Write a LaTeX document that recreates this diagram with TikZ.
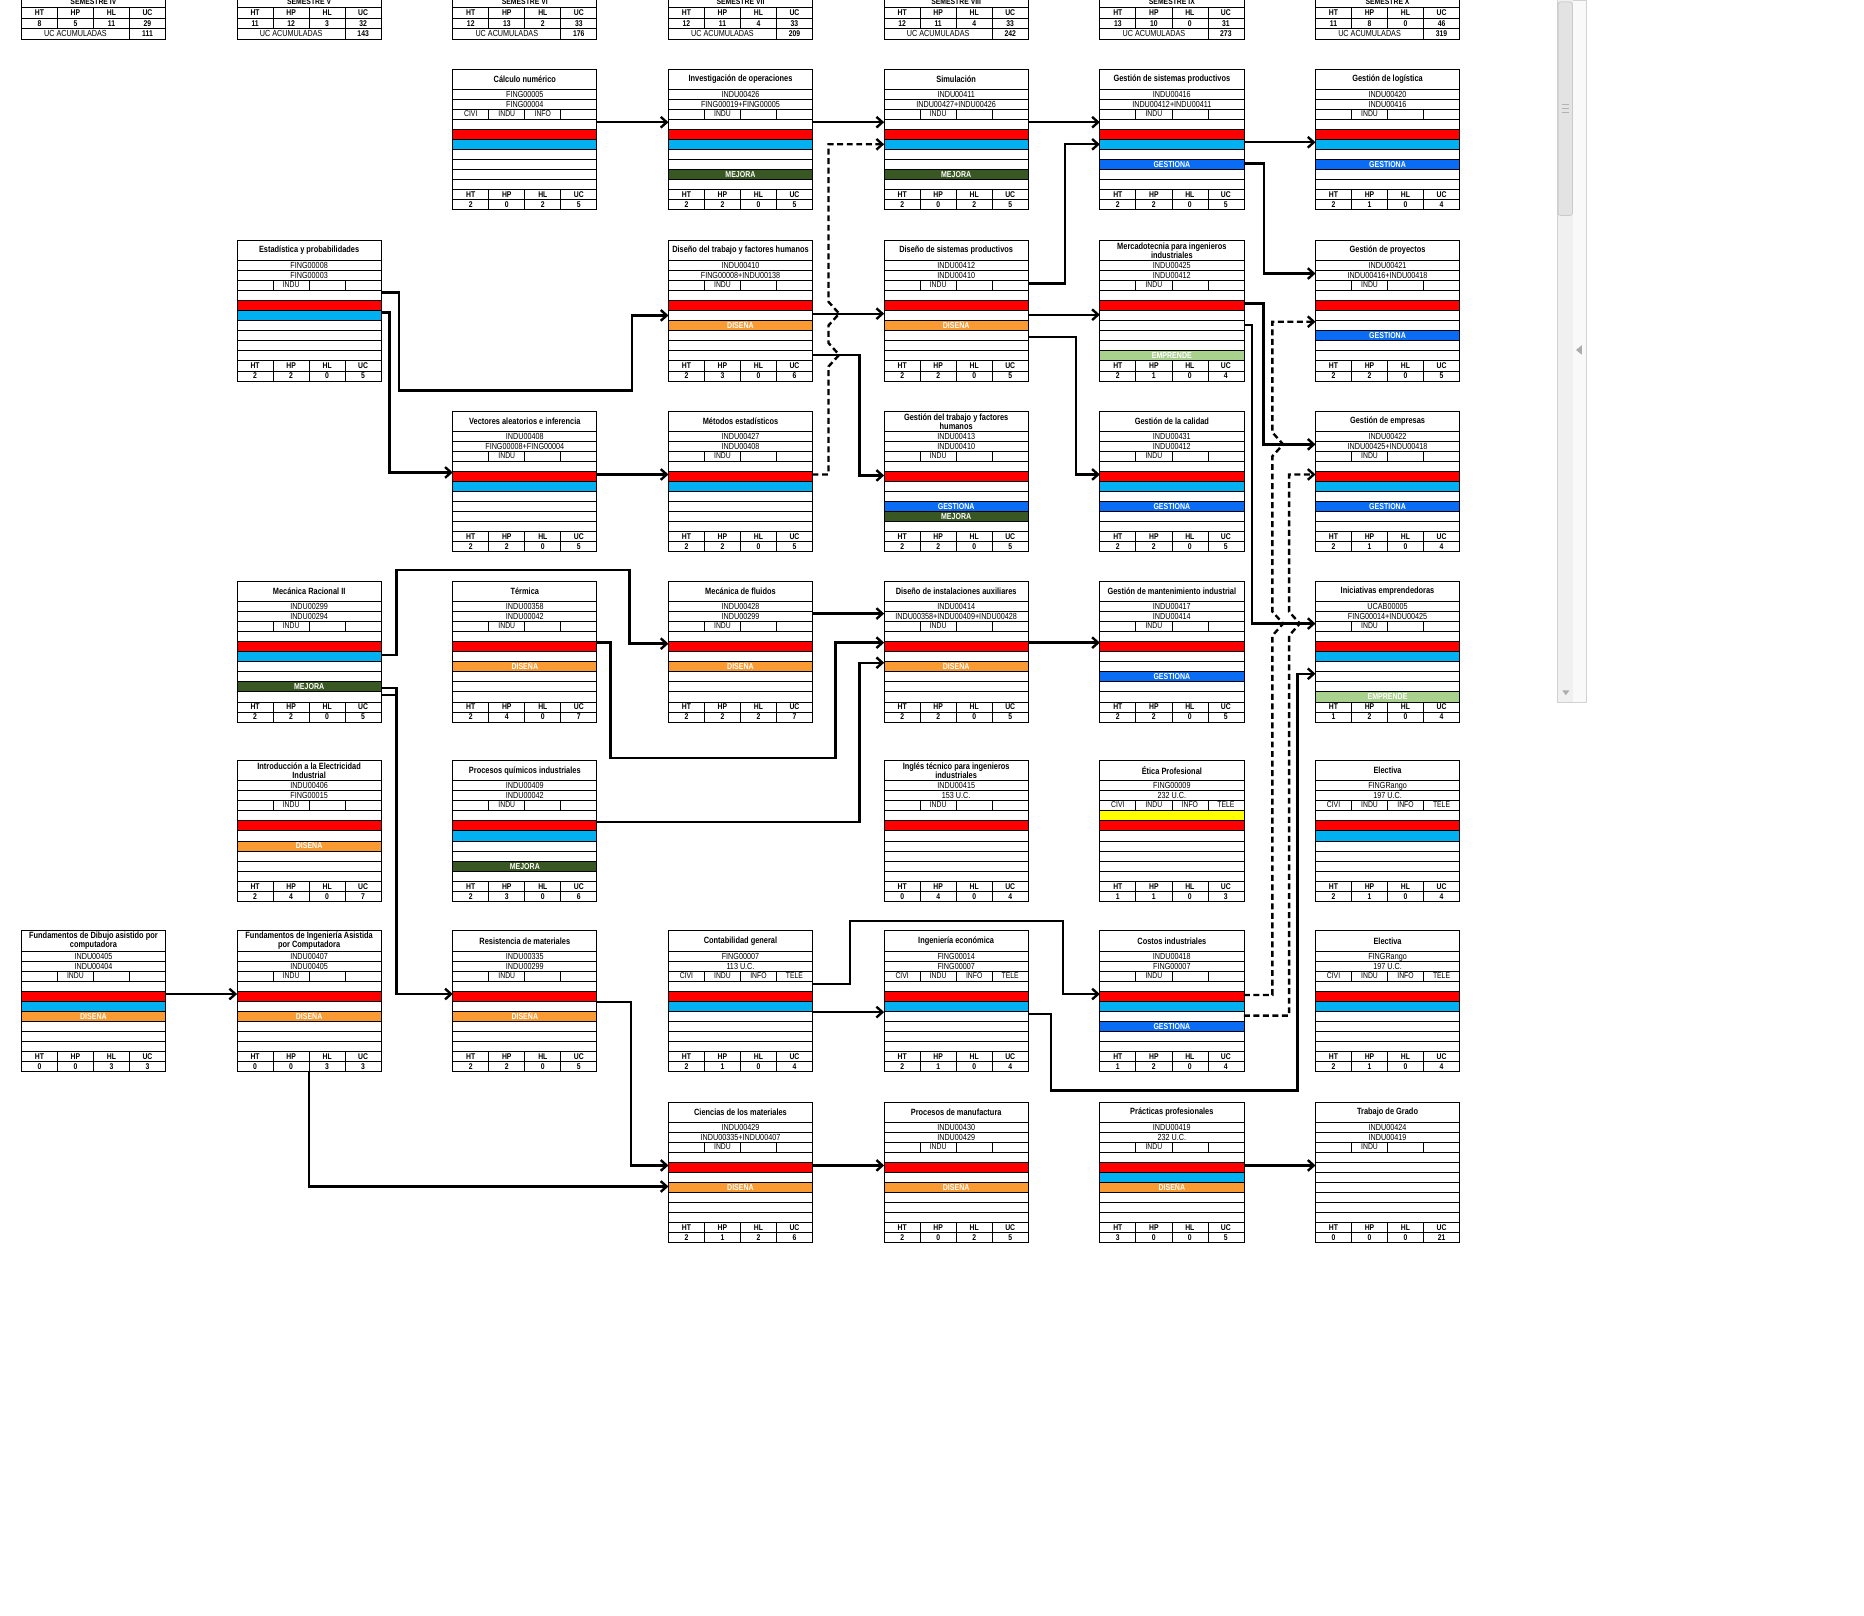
\documentclass[tikz,border=0pt]{standalone}
\usepackage{fontspec}
\setmainfont{Liberation Sans}[FakeStretch=0.82]
\usetikzlibrary{arrows.meta,calc}

\definecolor{rojo}{HTML}{FF0000}
\definecolor{celeste}{HTML}{00B0F0}
\definecolor{azul}{HTML}{0A6CF5}
\definecolor{verde}{HTML}{385723}
\definecolor{naranja}{HTML}{F99A33}
\definecolor{verdecl}{HTML}{A9D18E}
\definecolor{amarillo}{HTML}{FFFF00}

% carreras
\def\cI{2/INDU}
\def\cIII{1/CIVI,2/INDU,3/INFO}
\def\cIV{1/CIVI,2/INDU,3/INFO,4/TELE}

% #1 name, #2 x, #3 y, #4 title, #5 code, #6 prereq, #7 careers, #8 bands, #9 hours
\newcommand{\curso}[9]{%
  \node[box] (#1) at (#2,#3) {};
  \begin{scope}[shift={(#2,#3)}]
    \foreach \rr/\cl/\lb in {#8} {
      \fill[\cl] (0,{8.43*\rr}) rectangle (121,{8.43*(\rr+1)});
      \node[banda] (#1-b\rr) at (60.5,{8.43*(\rr+0.5)}) {\lb};
    }
    \draw[fino] (0,0) rectangle (121,118);
    \foreach \rr in {2,...,13} \draw[fino] (0,{8.43*\rr}) -- (121,{8.43*\rr});
    \foreach \i in {1,2,3} {
      \draw[fino] ({30.25*\i},{8.43*4}) -- ({30.25*\i},{8.43*5});
      \draw[fino] ({30.25*\i},{8.43*12}) -- ({30.25*\i},118);
    }
    \node[titulo] (#1-tit) at (60.5,8.43) {#4};
    \node[codigo] (#1-cod) at (60.5,{8.43*2.5}) {#5};
    \node[codigo] (#1-pre) at (60.5,{8.43*3.5}) {#6};
    \foreach \i/\nn in #7 \node[carrera] (#1-c\i) at ({30.25*\i-15.125},{8.43*4.42}) {\nn};
    \foreach \hh [count=\i] in {HT,HP,HL,UC} \node[horas] (#1-h\i) at ({30.25*\i-15.125},{8.43*12.5}) {\hh};
    \foreach \vv [count=\i] in {#9} \node[horas] (#1-v\i) at ({30.25*\i-15.125},{8.43*13.5}) {\vv};
  \end{scope}}

% #1 name, #2 x, #3 title, #4 hours, #5 accumulated
\newcommand{\semestre}[5]{%
  \node[tabla] (#1) at (#2,-5) {};
  \begin{scope}[shift={(#2,0)}]
    \draw[fino] (0,-5) rectangle (121,33);
    \foreach \yy in {6.2,15.4,23.8} \draw[fino] (0,\yy) -- (121,\yy);
    \foreach \i in {1,2,3} \draw[fino] ({30.25*\i},6.2) -- ({30.25*\i},23.8);
    \draw[fino] (90.75,23.8) -- (90.75,33);
    \node[horas,anchor=base] (#1-tit) at (60.5,3.4) {#3};
    \foreach \hh [count=\i] in {HT,HP,HL,UC} \node[horas] (#1-h\i) at ({30.25*\i-15.125},10.8) {\hh};
    \foreach \vv [count=\i] in {#4} \node[horas] (#1-v\i) at ({30.25*\i-15.125},19.6) {\vv};
    \node[codigo] (#1-acu) at (45.4,28.4) {UC ACUMULADAS};
    \node[horas] (#1-tot) at (105.9,28.4) {#5};
  \end{scope}}

\begin{document}
\begin{tikzpicture}
  [x=1pt,y=-1pt,
   box/.style={minimum width=121pt,minimum height=118pt,inner sep=0pt,outer sep=0pt,anchor=north west},
   tabla/.style={minimum width=121pt,minimum height=38pt,inner sep=0pt,outer sep=0pt,anchor=north west},
   fino/.style={line width=0.6pt},
   titulo/.style={font=\bfseries\fontsize{7.6}{7.6}\selectfont,align=center,inner sep=0pt},
   codigo/.style={font=\fontsize{7.4}{8}\selectfont,inner sep=0pt,text height=5.2pt,text depth=0pt},
   carrera/.style={font=\fontsize{7}{8}\selectfont,inner sep=0pt,text height=5pt,text depth=0pt},
   horas/.style={font=\bfseries\fontsize{7}{8}\selectfont,inner sep=0pt,text height=5pt,text depth=0pt},
   banda/.style={font=\bfseries\fontsize{7.2}{8}\selectfont,text=white,inner sep=0pt,text height=5.1pt,text depth=0pt},
   conn/.style={line width=2pt,-{Straight Barb[length=5pt,width=9pt]}},
   disc/.style={conn,dash pattern=on 5pt off 3pt},
   linea/.style={line width=2pt}]
\useasboundingbox[fill=white] (0,0) rectangle (1566,1357);
% semestres
\semestre{s4}{18}{SEMESTRE IV}{8,5,11,29}{111}
\semestre{s5}{199.2}{SEMESTRE V}{11,12,3,32}{143}
\semestre{s6}{380.4}{SEMESTRE VI}{12,13,2,33}{176}
\semestre{s7}{561.6}{SEMESTRE VII}{12,11,4,33}{209}
\semestre{s8}{742.8}{SEMESTRE VIII}{12,11,4,33}{242}
\semestre{s9}{924}{SEMESTRE IX}{13,10,0,31}{273}
\semestre{s10}{1105.2}{SEMESTRE X}{11,8,0,46}{319}
% semestre IV
\curso{fdac}{18}{782}{Fundamentos de Dibujo asistido por\\computadora}{INDU00405}{INDU00404}{\cI}{6/rojo/,7/celeste/,8/naranja/DISEÑA}{0,0,3,3}
% semestre V
\curso{est}{199.2}{202}{Estadística y probabilidades}{FING00008}{FING00003}{\cI}{6/rojo/,7/celeste/}{2,2,0,5}
\curso{mra}{199.2}{488.5}{Mecánica Racional II}{INDU00299}{INDU00294}{\cI}{6/rojo/,7/celeste/,10/verde/MEJORA}{2,2,0,5}
\curso{iei}{199.2}{639}{Introducción a la Electricidad\\Industrial}{INDU00406}{FING00015}{\cI}{6/rojo/,8/naranja/DISEÑA}{2,4,0,7}
\curso{fiac}{199.2}{782}{Fundamentos de Ingeniería Asistida\\por Computadora}{INDU00407}{INDU00405}{\cI}{6/rojo/,8/naranja/DISEÑA}{0,0,3,3}
% semestre VI
\curso{cnum}{380.4}{58}{Cálculo numérico}{FING00005}{FING00004}{\cIII}{6/rojo/,7/celeste/}{2,0,2,5}
\curso{vai}{380.4}{345.5}{Vectores aleatorios e inferencia}{INDU00408}{FING00008+FING00004}{\cI}{6/rojo/,7/celeste/}{2,2,0,5}
\curso{ter}{380.4}{488.5}{Térmica}{INDU00358}{INDU00042}{\cI}{6/rojo/,8/naranja/DISEÑA}{2,4,0,7}
\curso{pqi}{380.4}{639}{Procesos químicos industriales}{INDU00409}{INDU00042}{\cI}{6/rojo/,7/celeste/,10/verde/MEJORA}{2,3,0,6}
\curso{rmat}{380.4}{782}{Resistencia de materiales}{INDU00335}{INDU00299}{\cI}{6/rojo/,8/naranja/DISEÑA}{2,2,0,5}
% semestre VII
\curso{inv}{561.6}{58}{Investigación de operaciones}{INDU00426}{FING00019+FING00005}{\cI}{6/rojo/,7/celeste/,10/verde/MEJORA}{2,2,0,5}
\curso{dtf}{561.6}{202}{Diseño del trabajo y factores humanos}{INDU00410}{FING00008+INDU00138}{\cI}{6/rojo/,8/naranja/DISEÑA}{2,3,0,6}
\curso{mest}{561.6}{345.5}{Métodos estadísticos}{INDU00427}{INDU00408}{\cI}{6/rojo/,7/celeste/}{2,2,0,5}
\curso{mflu}{561.6}{488.5}{Mecánica de fluidos}{INDU00428}{INDU00299}{\cI}{6/rojo/,8/naranja/DISEÑA}{2,2,2,7}
\curso{cont}{561.6}{782}{Contabilidad general}{FING00007}{113 U.C.}{\cIV}{6/rojo/,7/celeste/}{2,1,0,4}
\curso{cmat}{561.6}{926}{Ciencias de los materiales}{INDU00429}{INDU00335+INDU00407}{\cI}{6/rojo/,8/naranja/DISEÑA}{2,1,2,6}
% semestre VIII
\curso{sim}{742.8}{58}{Simulación}{INDU00411}{INDU00427+INDU00426}{\cI}{6/rojo/,7/celeste/,10/verde/MEJORA}{2,0,2,5}
\curso{dsp}{742.8}{202}{Diseño de sistemas productivos}{INDU00412}{INDU00410}{\cI}{6/rojo/,8/naranja/DISEÑA}{2,2,0,5}
\curso{gtf}{742.8}{345.5}{Gestión del trabajo y factores\\humanos}{INDU00413}{INDU00410}{\cI}{6/rojo/,9/azul/GESTIONA,10/verde/MEJORA}{2,2,0,5}
\curso{dia}{742.8}{488.5}{Diseño de instalaciones auxiliares}{INDU00414}{INDU00358+INDU00409+INDU00428}{\cI}{6/rojo/,8/naranja/DISEÑA}{2,2,0,5}
\curso{ing}{742.8}{639}{Inglés técnico para ingenieros\\industriales}{INDU00415}{153 U.C.}{\cI}{6/rojo/}{0,4,0,4}
\curso{iec}{742.8}{782}{Ingeniería económica}{FING00014}{FING00007}{\cIV}{6/rojo/,7/celeste/}{2,1,0,4}
\curso{pman}{742.8}{926}{Procesos de manufactura}{INDU00430}{INDU00429}{\cI}{6/rojo/,8/naranja/DISEÑA}{2,0,2,5}
% semestre IX
\curso{gsp}{924}{58}{Gestión de sistemas productivos}{INDU00416}{INDU00412+INDU00411}{\cI}{6/rojo/,7/celeste/,9/azul/GESTIONA}{2,2,0,5}
\curso{mkt}{924}{202}{Mercadotecnia para ingenieros\\industriales}{INDU00425}{INDU00412}{\cI}{6/rojo/,11/verdecl/EMPRENDE}{2,1,0,4}
\curso{gcal}{924}{345.5}{Gestión de la calidad}{INDU00431}{INDU00412}{\cI}{6/rojo/,7/celeste/,9/azul/GESTIONA}{2,2,0,5}
\curso{gman}{924}{488.5}{Gestión de mantenimiento industrial}{INDU00417}{INDU00414}{\cI}{6/rojo/,9/azul/GESTIONA}{2,2,0,5}
\curso{etica}{924}{639}{Ética Profesional}{FING00009}{232 U.C.}{\cIV}{5/amarillo/,6/rojo/}{1,1,0,3}
\curso{cost}{924}{782}{Costos industriales}{INDU00418}{FING00007}{\cI}{6/rojo/,7/celeste/,9/azul/GESTIONA}{1,2,0,4}
\curso{ppro}{924}{926}{Prácticas profesionales}{INDU00419}{232 U.C.}{\cI}{6/rojo/,7/celeste/,8/naranja/DISEÑA}{3,0,0,5}
% semestre X
\curso{glog}{1105.2}{58}{Gestión de logística}{INDU00420}{INDU00416}{\cI}{6/rojo/,7/celeste/,9/azul/GESTIONA}{2,1,0,4}
\curso{gpro}{1105.2}{202}{Gestión de proyectos}{INDU00421}{INDU00416+INDU00418}{\cI}{6/rojo/,9/azul/GESTIONA}{2,2,0,5}
\curso{gemp}{1105.2}{345.5}{Gestión de empresas}{INDU00422}{INDU00425+INDU00418}{\cI}{6/rojo/,7/celeste/,9/azul/GESTIONA}{2,1,0,4}
\curso{iemp}{1105.2}{488.5}{Iniciativas emprendedoras}{UCAB00005}{FING00014+INDU00425}{\cI}{6/rojo/,7/celeste/,11/verdecl/EMPRENDE}{1,2,0,4}
\curso{elea}{1105.2}{639}{Electiva}{FINGRango}{197 U.C.}{\cIV}{6/rojo/,7/celeste/}{2,1,0,4}
\curso{eleb}{1105.2}{782}{Electiva}{FINGRango}{197 U.C.}{\cIV}{6/rojo/,7/celeste/}{2,1,0,4}
\curso{tgra}{1105.2}{926}{Trabajo de Grado}{INDU00424}{INDU00419}{\cI}{5/white/}{0,0,0,21}
% prelaciones
\draw[conn] ($(cnum.north east)+(0,8.43*5.3)$) -- ($(inv.north west)+(0,8.43*5.3)$);
\draw[conn] ($(inv.north east)+(0,8.43*5.3)$) -- ($(sim.north west)+(0,8.43*5.3)$);
\draw[conn] ($(sim.north east)+(0,8.43*5.3)$) -- ($(gsp.north west)+(0,8.43*5.3)$);
\draw[conn] ($(gsp.north east)+(0,8.43*7.3)$) -- ($(glog.north west)+(0,8.43*7.3)$);
\draw[conn] ($(gsp.north east)+(0,8.43*9.4)$) -- ++(17,0) |- ($(gpro.north west)+(0,8.43*3.3)$);
\draw[conn] ($(dsp.north east)+(0,8.43*4.3)$) -- ++(31,0) |- ($(gsp.north west)+(0,8.43*7.5)$);
\draw[conn] ($(dsp.north east)+(0,8.43*7.4)$) -- ($(mkt.north west)+(0,8.43*7.4)$);
\draw[conn] ($(dsp.north east)+(0,8.43*9.6)$) -- ++(40,0) |- ($(gcal.north west)+(0,8.43*6.3)$);
\draw[conn] ($(dtf.north east)+(0,8.43*7.3)$) -- ($(dsp.north west)+(0,8.43*7.3)$);
\draw[conn] ($(dtf.north east)+(0,8.43*11.4)$) -- ++(39.5,0) |- ($(gtf.north west)+(0,8.43*6.4)$);
\draw[disc] ($(mest.north east)+(0,8.43*6.3)$) -| (696,308) -- (705,298.1) -- (696,288.1)
  -- (696,273.5) -- (705,263.5) -- (696,253.5) |- ($(sim.north west)+(0,8.43*7.5)$);
\draw[conn] ($(est.north east)+(0,8.43*5.2)$) -- ++(15,0) |- (531,328) |- ($(dtf.north west)+(0,8.43*7.47)$);
\draw[conn] ($(est.north east)+(0,8.43*7.2)$) -- ++(7,0) |- ($(vai.north west)+(0,8.43*6.1)$);
\draw[conn] ($(vai.north east)+(0,8.43*6.3)$) -- ($(mest.north west)+(0,8.43*6.3)$);
\draw[conn] ($(mra.north east)+(0,8.43*7.3)$) -- ++(13,0) |- (529,479) |- ($(mflu.north west)+(0,8.43*6.2)$);
\draw[conn] ($(mra.north east)+(0,8.43*10.6)$) -- ++(13,0) |- ($(rmat.north west)+(0,8.43*6.3)$);
\draw[linea] ($(mra.north east)+(0,8.43*11.3)$) -- ++(13,0);
\draw[conn] ($(mflu.north east)+(0,8.43*3.2)$) -- ($(dia.north west)+(0,8.43*3.2)$);
\draw[conn] ($(ter.north east)+(0,8.43*6.1)$) -- ++(11.6,0) |- (702,637) |- ($(dia.north west)+(0,8.43*6.1)$);
\draw[conn] ($(pqi.north east)+(0,8.43*6.1)$) -| (722,600) |- ($(dia.north west)+(0,8.43*8.1)$);
\draw[conn] ($(dia.north east)+(0,8.43*6.1)$) -- ($(gman.north west)+(0,8.43*6.1)$);
\draw[conn] ($(mkt.north east)+(0,8.43*6.3)$) -- ++(16.5,0) |- ($(gemp.north west)+(0,8.43*3.3)$);
\draw[conn] ($(mkt.north east)+(0,8.43*8.4)$) -- ++(7,0) |- ($(iemp.north west)+(0,8.43*4.2)$);
\draw[disc] ($(cost.north east)+(0,8.43*6.4)$) -| (1069,534) -- (1078,523.9) -- (1069,513.9)
  -- (1069,383.3) -- (1078,373.3) -- (1069,363.3) |- ($(gpro.north west)+(0,8.43*8.1)$);
\draw[disc] ($(cost.north east)+(0,8.43*8.45)$) -| (1083,534) -- (1092,523.9) -- (1083,513.9)
  |- ($(gemp.north west)+(0,8.43*6.3)$);
\draw[conn] ($(fdac.north east)+(0,8.43*6.3)$) -- ($(fiac.north west)+(0,8.43*6.3)$);
\draw[conn] (fiac.south) |- ($(cmat.north west)+(0,8.43*8.4)$);
\draw[conn] ($(rmat.north east)+(0,8.43*7.1)$) -- ++(28.6,0) |- ($(cmat.north west)+(0,8.43*6.3)$);
\draw[conn] ($(cont.north east)+(0,8.43*5.3)$) -- ++(31.4,0) |- (893,774) |- ($(cost.north west)+(0,8.43*6.3)$);
\draw[conn] ($(cont.north east)+(0,8.43*8.1)$) -- ($(iec.north west)+(0,8.43*8.1)$);
\draw[conn] ($(iec.north east)+(0,8.43*8.3)$) -- ++(19.2,0) |- (1090,916) |- ($(iemp.north west)+(0,8.43*9.2)$);
\draw[conn] ($(cmat.north east)+(0,8.43*6.3)$) -- ($(pman.north west)+(0,8.43*6.3)$);
\draw[conn] ($(ppro.north east)+(0,8.43*6.3)$) -- ($(tgra.north west)+(0,8.43*6.3)$);
% barra de desplazamiento
\draw[gray!35,fill=gray!5] (1308,0) rectangle (1333,590);
\fill[gray!12] (1308.5,0) rectangle (1321.5,590);
\draw[gray!55,fill=gray!22,rounded corners=2pt] (1309,1.5) rectangle (1321,181);
\foreach \g in {88,91,94} \draw[gray!60,line width=0.6pt] (1312,\g) -- (1318,\g);
\fill[gray!65] (1324,294) -- (1329,290) -- (1329,298) -- cycle;
\fill[gray!65] (1312.5,580) -- (1318.5,580) -- (1315.5,584) -- cycle;
\end{tikzpicture}
\end{document}
